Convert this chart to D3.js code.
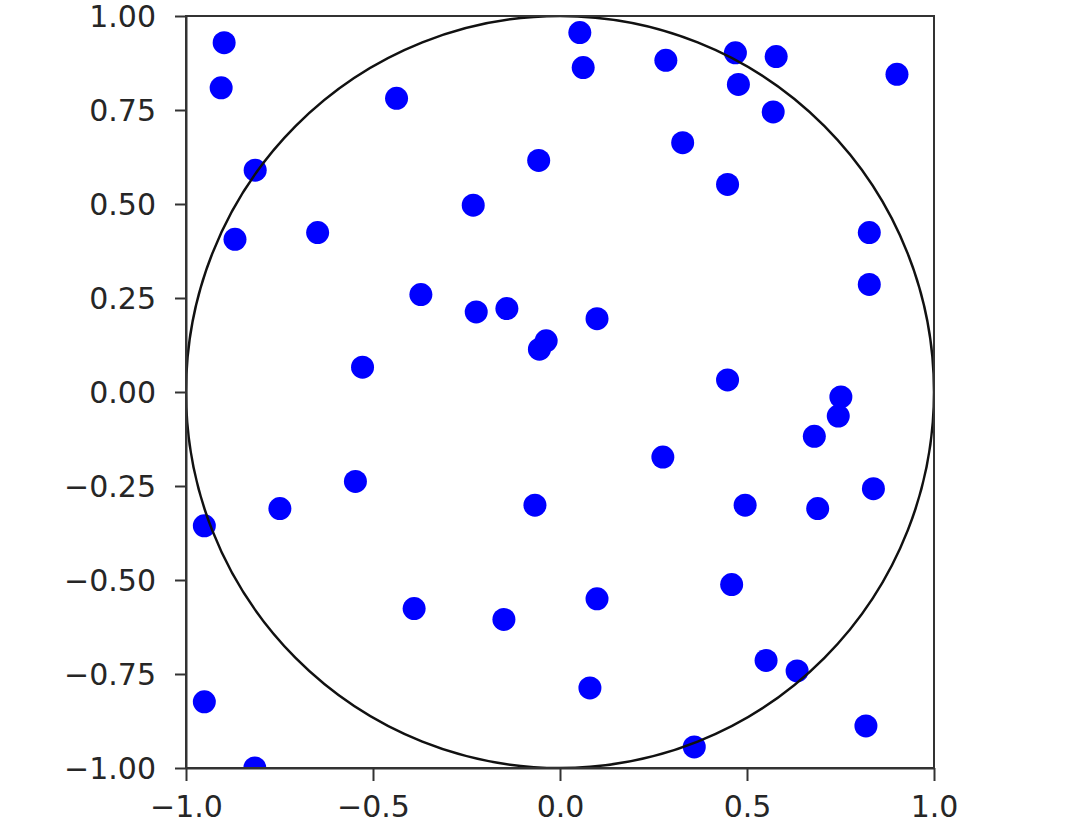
<!DOCTYPE html>
<html>
<head>
<meta charset="utf-8">
<script src="https://cdn.jsdelivr.net/npm/d3@7"></script>
<style>
  html, body { margin: 0; padding: 0; background: #fff; }
  svg { display: block; }
  .tick text { font-family: "DejaVu Sans", sans-serif; font-size: 30px; fill: #262626; }
</style>
</head>
<body>
<svg id="chart" width="1080" height="837"></svg>
<script>
// Sample points (x, y)
const xValues = [
  -0.898, -0.906, -0.437, -0.815, -0.869, -0.648, -0.372, -0.528,
   0.053,  0.062,  0.283,  0.328, -0.057, -0.232, -0.224, -0.142,
   0.099, -0.055, -0.037,  0.469,  0.578,  0.477,  0.570,  0.901,
   0.448,  0.827,  0.827,  0.448,  0.751,  0.744,  0.680,  0.275,
  -0.547, -0.749, -0.951, -0.067,  0.495,  0.689,  0.838,  0.459,
   0.099, -0.390, -0.150,  0.551,  0.634,  0.080, -0.951,  0.818,
   0.359, -0.816
];
const yValues = [
   0.929,  0.809,  0.781,  0.590,  0.406,  0.424,  0.259,  0.066,
   0.956,  0.863,  0.882,  0.663,  0.616,  0.497,  0.213,  0.222,
   0.195,  0.114,  0.136,  0.902,  0.892,  0.818,  0.745,  0.845,
   0.552,  0.424,  0.286,  0.032, -0.013, -0.064, -0.118, -0.173,
  -0.238, -0.310, -0.356, -0.301, -0.301, -0.310, -0.257, -0.512,
  -0.550, -0.576, -0.605, -0.714, -0.742, -0.787, -0.824, -0.888,
  -0.944, -1.000
];
const xTicks = [-1.0, -0.5, 0.0, 0.5, 1.0];
const yTicks = [-1.0, -0.75, -0.5, -0.25, 0.0, 0.25, 0.5, 0.75, 1.0];
const circleRadius = [1.0];

const margin = { left: 186, top: 16 };
const width = 748, height = 752;

const svg = d3.select("#chart");
const g = svg.append("g").attr("transform", `translate(${margin.left},${margin.top})`);

const x = d3.scaleLinear().domain([-1, 1]).range([0, width]);
const y = d3.scaleLinear().domain([-1, 1]).range([height, 0]);

svg.append("defs").append("clipPath").attr("id", "plotclip")
  .append("rect").attr("x", 0).attr("y", 0).attr("width", width).attr("height", height);

const plot = g.append("g").attr("clip-path", "url(#plotclip)");

const pts = xValues.map((v, i) => ({ x: v, y: yValues[i] }));

plot.selectAll("circle.pt").data(pts).enter().append("circle")
  .attr("class", "pt")
  .attr("cx", d => x(d.x))
  .attr("cy", d => y(d.y))
  .attr("r", 11.5)
  .attr("fill", "#0000ff");

plot.selectAll("ellipse.unit").data(circleRadius).enter().append("ellipse")
  .attr("class", "unit")
  .attr("cx", x(0)).attr("cy", y(0))
  .attr("rx", d => x(d) - x(0))
  .attr("ry", d => y(0) - y(d))
  .attr("fill", "none")
  .attr("stroke", "#111")
  .attr("stroke-width", 2.5);

// Frame (spines)
g.append("rect")
  .attr("x", 0).attr("y", 0).attr("width", width).attr("height", height)
  .attr("fill", "none").attr("stroke", "#333").attr("stroke-width", 2);

const xAxis = d3.axisBottom(x).tickValues(xTicks).tickFormat(d3.format(".1f"))
  .tickSize(13).tickPadding(14).tickSizeOuter(0);
const yAxis = d3.axisLeft(y).tickValues(yTicks).tickFormat(d3.format(".2f"))
  .tickSize(11).tickPadding(19).tickSizeOuter(0);

const gx = g.append("g").attr("transform", `translate(0,${height})`).call(xAxis);
const gy = g.append("g").call(yAxis);
[gx, gy].forEach(a => {
  a.select(".domain").attr("stroke", "#333").attr("stroke-width", 2);
  a.selectAll(".tick line").attr("stroke", "#333").attr("stroke-width", 2);
  a.selectAll(".tick text").attr("fill", "#262626");
});
gy.selectAll(".tick text").attr("dy", "0.36em");
gx.selectAll(".tick text").attr("dy", "0.73em");
</script>
</body>
</html>
